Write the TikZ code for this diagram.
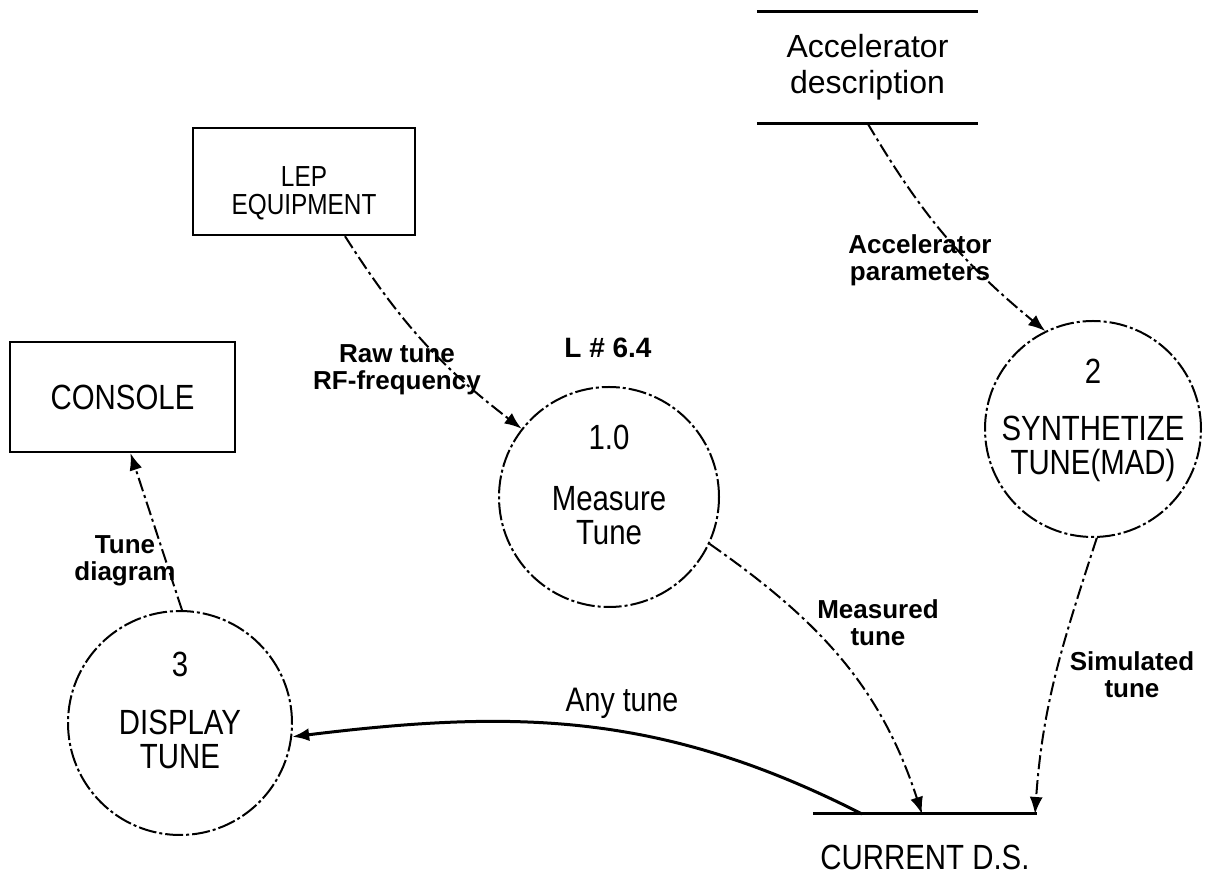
\documentclass[tikz,border=0pt]{standalone}
\usepackage{fontspec}
\setmainfont{Liberation Sans}
\newfontfamily\plotfont{Liberation Sans}[FakeStretch=0.84]
\usetikzlibrary{arrows.meta}
\newcommand{\ptfont}{\plotfont\fontsize{35}{34}\selectfont}
\newcommand{\lbfont}{\bfseries\fontsize{26}{27}\selectfont}
\tikzset{
  ext/.style   = {draw=black, line width=2.4pt, align=center, font=\ptfont},
  proc/.style  = {circle, draw=black, line width=2pt,
                  dash pattern=on 18pt off 3pt on 3pt off 3pt},
  ptxt/.style  = {align=center, font=\ptfont},
  lab/.style   = {align=center, font=\lbfont},
  flow/.style  = {-{Latex[length=17pt,width=13pt]}, draw=black, line width=2pt,
                  dash pattern=on 14pt off 4pt on 3pt off 4pt},
  sflow/.style = {-{Latex[length=17pt,width=13pt]}, draw=black, line width=3pt},
  store/.style = {draw=black, line width=3pt},
}

\begin{document}
\begin{tikzpicture}[x=1pt, y=1pt]
  \useasboundingbox (0,0) rectangle (1211,886);
  % external entities
  \node[ext, minimum width=225pt, minimum height=110pt] (console) at (122.5,489) {CONSOLE};
  \node[ext, minimum width=222pt, minimum height=107pt] (lep) at (304,704.5) {};
  \node[ptxt, font=\plotfont\fontsize{29}{28}\selectfont] (leptxt) at ([yshift=-12pt]lep.center) {LEP\\EQUIPMENT};
  % data stores
  \node[ptxt, font=\fontsize{32}{36}\selectfont, minimum width=221pt, minimum height=111pt] (accdesc) at (867.5,818.5) {Accelerator\\description};
  \draw[store] (accdesc.north west) -- (accdesc.north east);
  \draw[store] (accdesc.south west) -- (accdesc.south east);
  \node[ptxt, minimum width=224pt, inner ysep=31pt, anchor=north] (cur) at (925,72) {CURRENT D.S.};
  \draw[store] (cur.north west) -- (cur.north east);
  % processes
  \node[proc, minimum size=220pt] (p1) at (609,389) {};
  \node[ptxt] (p1num) at ([yshift=60pt]p1.center) {1.0};
  \node[ptxt] (p1txt) at ([yshift=-19pt]p1.center) {Measure\\Tune};
  \node[lab, font=\bfseries\fontsize{28}{28}\selectfont] (p1loc) at (608,538) {L \# 6.4};
  \node[proc, minimum size=216pt] (p2) at (1093,457) {};
  \node[ptxt] (p2num) at ([yshift=58pt]p2.center) {2};
  \node[ptxt] (p2txt) at ([yshift=-20pt]p2.center) {SYNTHETIZE\\TUNE(MAD)};
  \node[proc, minimum size=224pt] (p3) at (180,163) {};
  \node[ptxt] (p3num) at ([yshift=59pt]p3.center) {3};
  \node[ptxt] (p3txt) at ([yshift=-16pt]p3.center) {DISPLAY\\TUNE};
  % data flows
  \draw[flow] ([xshift=41pt]lep.south) to[bend right=10] (p1.142);
  \node[lab] (rawlbl) at (397,516) {Raw tune\\RF-frequency};
  \draw[flow] (accdesc.south) to[bend right=10] (p2.116);
  \node[lab] (acclbl) at (920,626) {Accelerator\\parameters};
  \draw[flow] (p1.-25) to[out=-35, in=108] ([xshift=-3pt]cur.north);
  \node[lab] (measlbl) at (878,263) {Measured\\tune};
  \draw[flow] (p2.-88) to[out=-108, in=86] ([xshift=110pt]cur.north);
  \node[lab] (simlbl) at (1132,211) {Simulated\\tune};
  \draw[sflow] ([xshift=-63pt]cur.north) to[out=153, in=7] (p3.-7);
  \node[ptxt, font=\plotfont\fontsize{34}{34}\selectfont] (anylbl) at (622,183) {Any tune};
  \draw[flow] (p3.89) -- ([xshift=8pt]console.south);
  \node[lab] (tunelbl) at (125,325) {Tune\\diagram};
\end{tikzpicture}
\end{document}
